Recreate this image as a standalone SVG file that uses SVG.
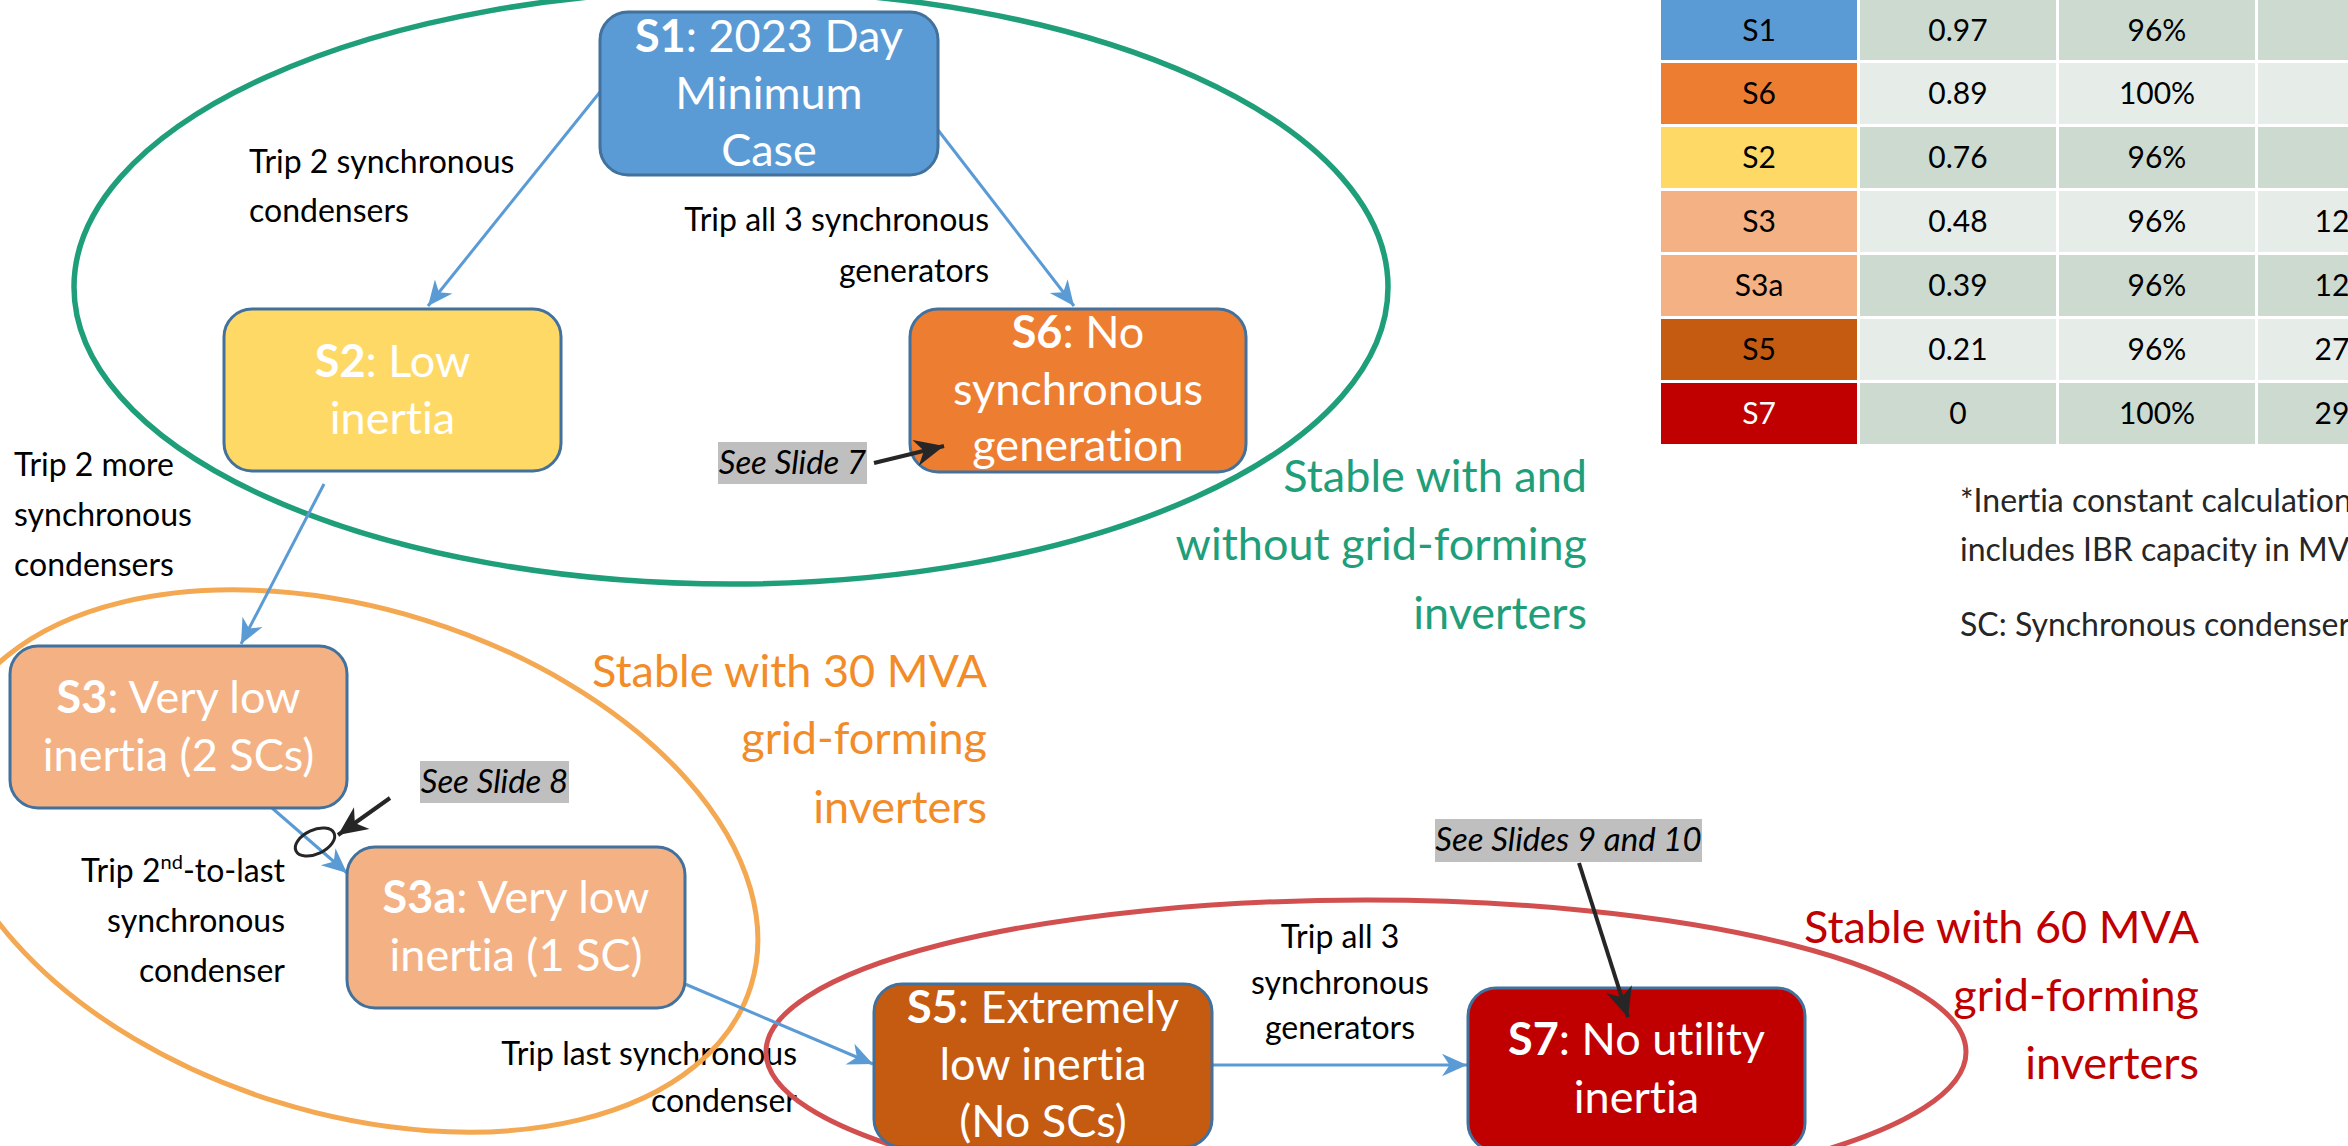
<svg xmlns="http://www.w3.org/2000/svg" width="2348" height="1146" viewBox="0 0 2348 1146">
<style>
text{font-family:Lato,"Liberation Sans",sans-serif;font-variant-ligatures:none;font-feature-settings:"liga" 0,"clig" 0}
.nt{fill:#fff;font-size:45px;text-anchor:middle}
.nt .b{font-weight:bold}
.lb{fill:#000;font-size:32px}
.st{font-size:45px;text-anchor:end}
.node rect{stroke:#41719C;stroke-width:3}
.con{stroke:#5B9BD5;stroke-width:3;fill:none}
.blk{stroke:#262626;stroke-width:4;fill:none}
.see{fill:#000;font-size:33px;font-style:italic;text-anchor:middle}
.tb{font-size:30px;text-anchor:middle;fill:#000}
.dk{fill:#CDDAD0}
.lt{fill:#E6EDE8}
.note{fill:#262626;font-size:32px}
</style>
<defs>
<marker id="ab" markerUnits="userSpaceOnUse" markerWidth="30" markerHeight="30" viewBox="-22 -11 24 22" refX="0" refY="0" orient="auto">
<path d="M0,0 L-20,-9 L-14,0 L-20,9 Z" fill="#5B9BD5"/>
</marker>
<marker id="ak" markerUnits="userSpaceOnUse" markerWidth="34" markerHeight="34" viewBox="-26 -13 28 26" refX="0" refY="0" orient="auto">
<path d="M0,0 L-24,-11 L-17,0 L-24,11 Z" fill="#262626"/>
</marker>
</defs>
<rect width="2348" height="1146" fill="#fff"/>

<!-- table -->
<g id="table">
<rect x="1661" y="0" width="196" height="60" fill="#5B9BD5"/>
<rect x="1860" y="0" width="196" height="60" class="dk"/>
<rect x="2059" y="0" width="196" height="60" class="dk"/>
<rect x="2258" y="0" width="90" height="60" class="dk"/>
<rect x="1661" y="63" width="196" height="61" fill="#ED7D31"/>
<rect x="1860" y="63" width="196" height="61" class="lt"/>
<rect x="2059" y="63" width="196" height="61" class="lt"/>
<rect x="2258" y="63" width="90" height="61" class="lt"/>
<rect x="1661" y="127" width="196" height="61" fill="#FFD966"/>
<rect x="1860" y="127" width="196" height="61" class="dk"/>
<rect x="2059" y="127" width="196" height="61" class="dk"/>
<rect x="2258" y="127" width="90" height="61" class="dk"/>
<rect x="1661" y="191" width="196" height="61" fill="#F4B183"/>
<rect x="1860" y="191" width="196" height="61" class="lt"/>
<rect x="2059" y="191" width="196" height="61" class="lt"/>
<rect x="2258" y="191" width="90" height="61" class="lt"/>
<rect x="1661" y="255" width="196" height="61" fill="#F4B183"/>
<rect x="1860" y="255" width="196" height="61" class="dk"/>
<rect x="2059" y="255" width="196" height="61" class="dk"/>
<rect x="2258" y="255" width="90" height="61" class="dk"/>
<rect x="1661" y="319" width="196" height="61" fill="#C55A11"/>
<rect x="1860" y="319" width="196" height="61" class="lt"/>
<rect x="2059" y="319" width="196" height="61" class="lt"/>
<rect x="2258" y="319" width="90" height="61" class="lt"/>
<rect x="1661" y="383" width="196" height="61" fill="#C00000"/>
<rect x="1860" y="383" width="196" height="61" class="dk"/>
<rect x="2059" y="383" width="196" height="61" class="dk"/>
<rect x="2258" y="383" width="90" height="61" class="dk"/>
<text class="tb" x="1759" y="41">S1</text><text class="tb" x="1958" y="41">0.97</text><text class="tb" x="2157" y="41">96%</text>
<text class="tb" x="1759" y="104">S6</text><text class="tb" x="1958" y="104">0.89</text><text class="tb" x="2157" y="104">100%</text>
<text class="tb" x="1759" y="168">S2</text><text class="tb" x="1958" y="168">0.76</text><text class="tb" x="2157" y="168">96%</text>
<text class="tb" x="1759" y="232">S3</text><text class="tb" x="1958" y="232">0.48</text><text class="tb" x="2157" y="232">96%</text><text class="tb" x="2332" y="232" text-anchor="start">12</text>
<text class="tb" x="1759" y="296">S3a</text><text class="tb" x="1958" y="296">0.39</text><text class="tb" x="2157" y="296">96%</text><text class="tb" x="2332" y="296" text-anchor="start">12</text>
<text class="tb" x="1759" y="360">S5</text><text class="tb" x="1958" y="360">0.21</text><text class="tb" x="2157" y="360">96%</text><text class="tb" x="2332" y="360" text-anchor="start">27</text>
<text class="tb" x="1759" y="424" style="fill:#fff">S7</text><text class="tb" x="1958" y="424">0</text><text class="tb" x="2157" y="424">100%</text><text class="tb" x="2332" y="424" text-anchor="start">29</text>
</g>

<text class="note" x="1960" y="512">*Inertia constant calculation</text>
<text class="note" x="1960" y="561">includes IBR capacity in MVA</text>
<text class="note" x="1960" y="636">SC: Synchronous condenser</text>

<!-- edge labels -->
<text class="lb"><tspan x="249" y="173">Trip 2 synchronous</tspan><tspan x="249" y="222">condensers</tspan></text>
<text class="lb" text-anchor="end"><tspan x="989" y="231">Trip all 3 synchronous</tspan><tspan x="989" y="282">generators</tspan></text>
<text class="lb"><tspan x="14" y="476">Trip 2 more</tspan><tspan x="14" y="526">synchronous</tspan><tspan x="14" y="576">condensers</tspan></text>
<text class="lb" text-anchor="end"><tspan x="285" y="882">Trip 2<tspan font-size="20" dy="-13">nd</tspan><tspan dy="13">-to-last</tspan></tspan><tspan x="285" y="932">synchronous</tspan><tspan x="285" y="982">condenser</tspan></text>
<text class="lb" text-anchor="end"><tspan x="797" y="1065">Trip last synchronous</tspan><tspan x="797" y="1112">condenser</tspan></text>
<text class="lb" text-anchor="middle"><tspan x="1340" y="948">Trip all 3</tspan><tspan x="1340" y="994">synchronous</tspan><tspan x="1340" y="1039">generators</tspan></text>

<!-- region ellipses -->
<ellipse cx="731" cy="287" rx="657" ry="297" fill="none" stroke="#1F9E7A" stroke-width="5.5"/>
<ellipse cx="351" cy="861" rx="419" ry="252" transform="rotate(17.4 351 861)" fill="none" stroke="#F4A851" stroke-width="5"/>
<ellipse cx="1366" cy="1052" rx="600" ry="152" fill="none" stroke="#D24F50" stroke-width="5"/>

<text class="st" fill="#1F9E7A"><tspan x="1587" y="492">Stable with and</tspan><tspan x="1587" y="560">without grid-forming</tspan><tspan x="1587" y="629">inverters</tspan></text>
<text class="st" fill="#F28C28"><tspan x="987" y="687">Stable with 30 MVA</tspan><tspan x="987" y="754">grid-forming</tspan><tspan x="987" y="823">inverters</tspan></text>
<text class="st" fill="#C00000"><tspan x="2199" y="943">Stable with 60 MVA</tspan><tspan x="2199" y="1011">grid-forming</tspan><tspan x="2199" y="1079">inverters</tspan></text>

<!-- connectors -->
<g id="connectors">
<line class="con" x1="600" y1="92" x2="428" y2="306" marker-end="url(#ab)"/>
<line class="con" x1="938" y1="130" x2="1074" y2="306" marker-end="url(#ab)"/>
<line class="con" x1="324" y1="484" x2="241" y2="644" marker-end="url(#ab)"/>
<line class="con" x1="272" y1="808" x2="347" y2="873" marker-end="url(#ab)"/>
<line class="con" x1="685" y1="984" x2="873" y2="1064" marker-end="url(#ab)"/>
<line class="con" x1="1212" y1="1065" x2="1467" y2="1065" marker-end="url(#ab)"/>
</g>

<!-- nodes -->
<g id="S1" class="node"><rect x="600" y="12" width="338" height="163" rx="28" fill="#5B9BD5"/>
<text class="nt"><tspan x="769" y="52"><tspan class="b">S1</tspan>: 2023 Day</tspan><tspan x="769" y="109">Minimum</tspan><tspan x="769" y="166">Case</tspan></text></g>
<g id="S2" class="node"><rect x="224" y="309" width="337" height="162" rx="28" fill="#FFD966"/>
<text class="nt"><tspan x="392.5" y="377"><tspan class="b">S2</tspan>: Low</tspan><tspan x="392.5" y="434">inertia</tspan></text></g>
<g id="S6" class="node"><rect x="910" y="309" width="336" height="163" rx="28" fill="#ED7D31"/>
<text class="nt"><tspan x="1078" y="348"><tspan class="b">S6</tspan>: No</tspan><tspan x="1078" y="405">synchronous</tspan><tspan x="1078" y="461">generation</tspan></text></g>
<g id="S3" class="node"><rect x="10" y="646" width="337" height="162" rx="28" fill="#F4B183"/>
<text class="nt"><tspan x="178.5" y="713"><tspan class="b">S3</tspan>: Very low</tspan><tspan x="178.5" y="771">inertia (2 SCs)</tspan></text></g>
<g id="S3a" class="node"><rect x="347" y="847" width="338" height="161" rx="28" fill="#F4B183"/>
<text class="nt"><tspan x="516" y="913"><tspan class="b">S3a</tspan>: Very low</tspan><tspan x="516" y="971">inertia (1 SC)</tspan></text></g>
<g id="S5" class="node"><rect x="874" y="984" width="338" height="163" rx="28" fill="#C55A11"/>
<text class="nt"><tspan x="1043" y="1023"><tspan class="b">S5</tspan>: Extremely</tspan><tspan x="1043" y="1080">low inertia</tspan><tspan x="1043" y="1137">(No SCs)</tspan></text></g>
<g id="S7" class="node"><rect x="1468" y="988" width="337" height="163" rx="28" fill="#C00000"/>
<text class="nt"><tspan x="1636.5" y="1055"><tspan class="b">S7</tspan>: No utility</tspan><tspan x="1636.5" y="1113">inertia</tspan></text></g>

<!-- callouts -->
<g id="callout7"><rect x="718" y="442" width="149" height="42" fill="#BFBFBF"/><text class="see" x="792.5" y="474">See Slide 7</text></g>
<g id="callout8"><rect x="420" y="761" width="149" height="42" fill="#BFBFBF"/><text class="see" x="494.5" y="793">See Slide 8</text></g>
<g id="callout910"><rect x="1435" y="819" width="267" height="43" fill="#BFBFBF"/><text class="see" x="1568.5" y="851">See Slides 9 and 10</text></g>
<ellipse cx="315" cy="842" rx="21" ry="12" transform="rotate(-25 315 842)" fill="none" stroke="#262626" stroke-width="3"/>
<g id="callout-arrows">
<line class="blk" x1="874" y1="463" x2="944" y2="446" marker-end="url(#ak)"/>
<line class="blk" x1="390" y1="798" x2="338" y2="835" marker-end="url(#ak)"/>
<line class="blk" x1="1579" y1="863" x2="1628" y2="1017" marker-end="url(#ak)"/>
</g>
</svg>
